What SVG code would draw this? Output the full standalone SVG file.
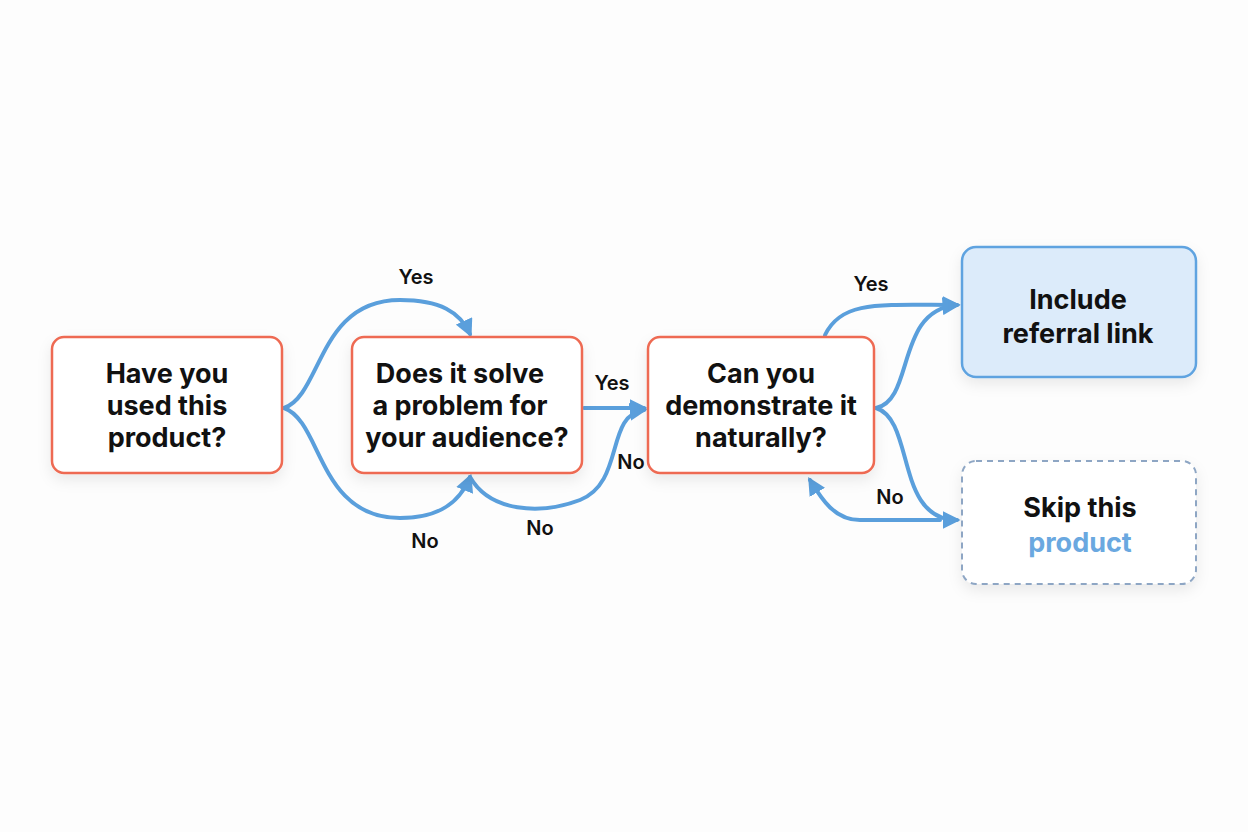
<svg xmlns="http://www.w3.org/2000/svg" width="1248" height="832" viewBox="0 0 1248 832">
<defs>
<marker id="ah" viewBox="0 0 10 10" refX="8" refY="5" markerWidth="4.5" markerHeight="4.5" orient="auto" markerUnits="strokeWidth"><path d="M0,0 L10,5 L0,10 Z" fill="#5a9fdc"/></marker>
<filter id="sh" x="-20%" y="-20%" width="140%" height="150%"><feDropShadow dx="0" dy="6" stdDeviation="7" flood-color="#000" flood-opacity="0.08"/></filter>
</defs>
<style>
.q{fill:#fff;stroke:#ee6a52;stroke-width:2.5}
.t{font-family:Inter,"Liberation Sans",sans-serif;font-weight:700;font-size:27px;fill:#111;text-anchor:middle}
.l{font-family:Inter,"Liberation Sans",sans-serif;font-weight:600;font-size:20px;fill:#111;text-anchor:middle}
.c{fill:none;stroke:#5a9fdc;stroke-width:4;stroke-linecap:round}
</style>
<rect width="1248" height="832" fill="#fdfdfd"/>
<g id="connectors">
<path class="c" marker-end="url(#ah)" d="M284,408 C322,395 318,300 400,300 C440,300 460,312 470,334"/>
<path class="c" marker-end="url(#ah)" d="M284,408 C322,421 318,518 400,518 C440,518 460,502 470,477"/>
<path class="c" marker-end="url(#ah)" d="M584,408 L644,408"/>
<path class="c" marker-end="url(#ah)" d="M470,477 C490,512 540,515 580,500 C625,482 605,415 644,410"/>
<path class="c" marker-end="url(#ah)" d="M825,335 C842,300 880,305 957,305"/>
<path class="c" marker-end="url(#ah)" d="M876,408 C915,400 895,310 957,305"/>
<path class="c" marker-end="url(#ah)" d="M876,408 C915,420 895,520 957,520"/>
<path class="c" marker-end="url(#ah)" d="M940,520 L860,520 C835,520 822,500 810,480"/>
<text class="l" x="416" y="284">Yes</text>
<text class="l" x="612" y="390">Yes</text>
<text class="l" x="631" y="469">No</text>
<text class="l" x="425" y="548">No</text>
<text class="l" x="540" y="535">No</text>
<text class="l" x="871" y="291">Yes</text>
<text class="l" x="890" y="504">No</text>
</g>
<g id="n1"><rect class="q" x="52" y="337" width="230" height="136" rx="12" filter="url(#sh)"/>
<text class="t" x="167" y="383">Have you</text><text class="t" x="167" y="415">used this</text><text class="t" x="167" y="447">product?</text></g>
<g id="n2"><rect class="q" x="352" y="337" width="230" height="136" rx="12" filter="url(#sh)"/>
<text class="t" x="460" y="383">Does it solve</text><text class="t" x="460" y="415">a problem for</text><text class="t" x="467" y="447">your audience?</text></g>
<g id="n3"><rect class="q" x="648" y="337" width="226" height="136" rx="12" filter="url(#sh)"/>
<text class="t" x="761" y="383">Can you</text><text class="t" x="761" y="415">demonstrate it</text><text class="t" x="761" y="447">naturally?</text></g>
<g id="n4"><rect x="962" y="247" width="234" height="130" rx="14" fill="#dcebfa" stroke="#5fa3e0" stroke-width="2.5" filter="url(#sh)"/>
<text class="t" x="1078" y="309" font-size="29">Include</text><text class="t" x="1078" y="343" font-size="29">referral link</text></g>
<g id="n5"><rect x="962" y="461" width="234" height="123" rx="14" fill="#fff" stroke="#8ea6c4" stroke-width="2" stroke-dasharray="6 5" filter="url(#sh)"/>
<text class="t" x="1080" y="517" font-size="29">Skip this</text><text class="t" x="1080" y="552" font-size="29" style="fill:#6aa8e0">product</text></g>
</svg>
